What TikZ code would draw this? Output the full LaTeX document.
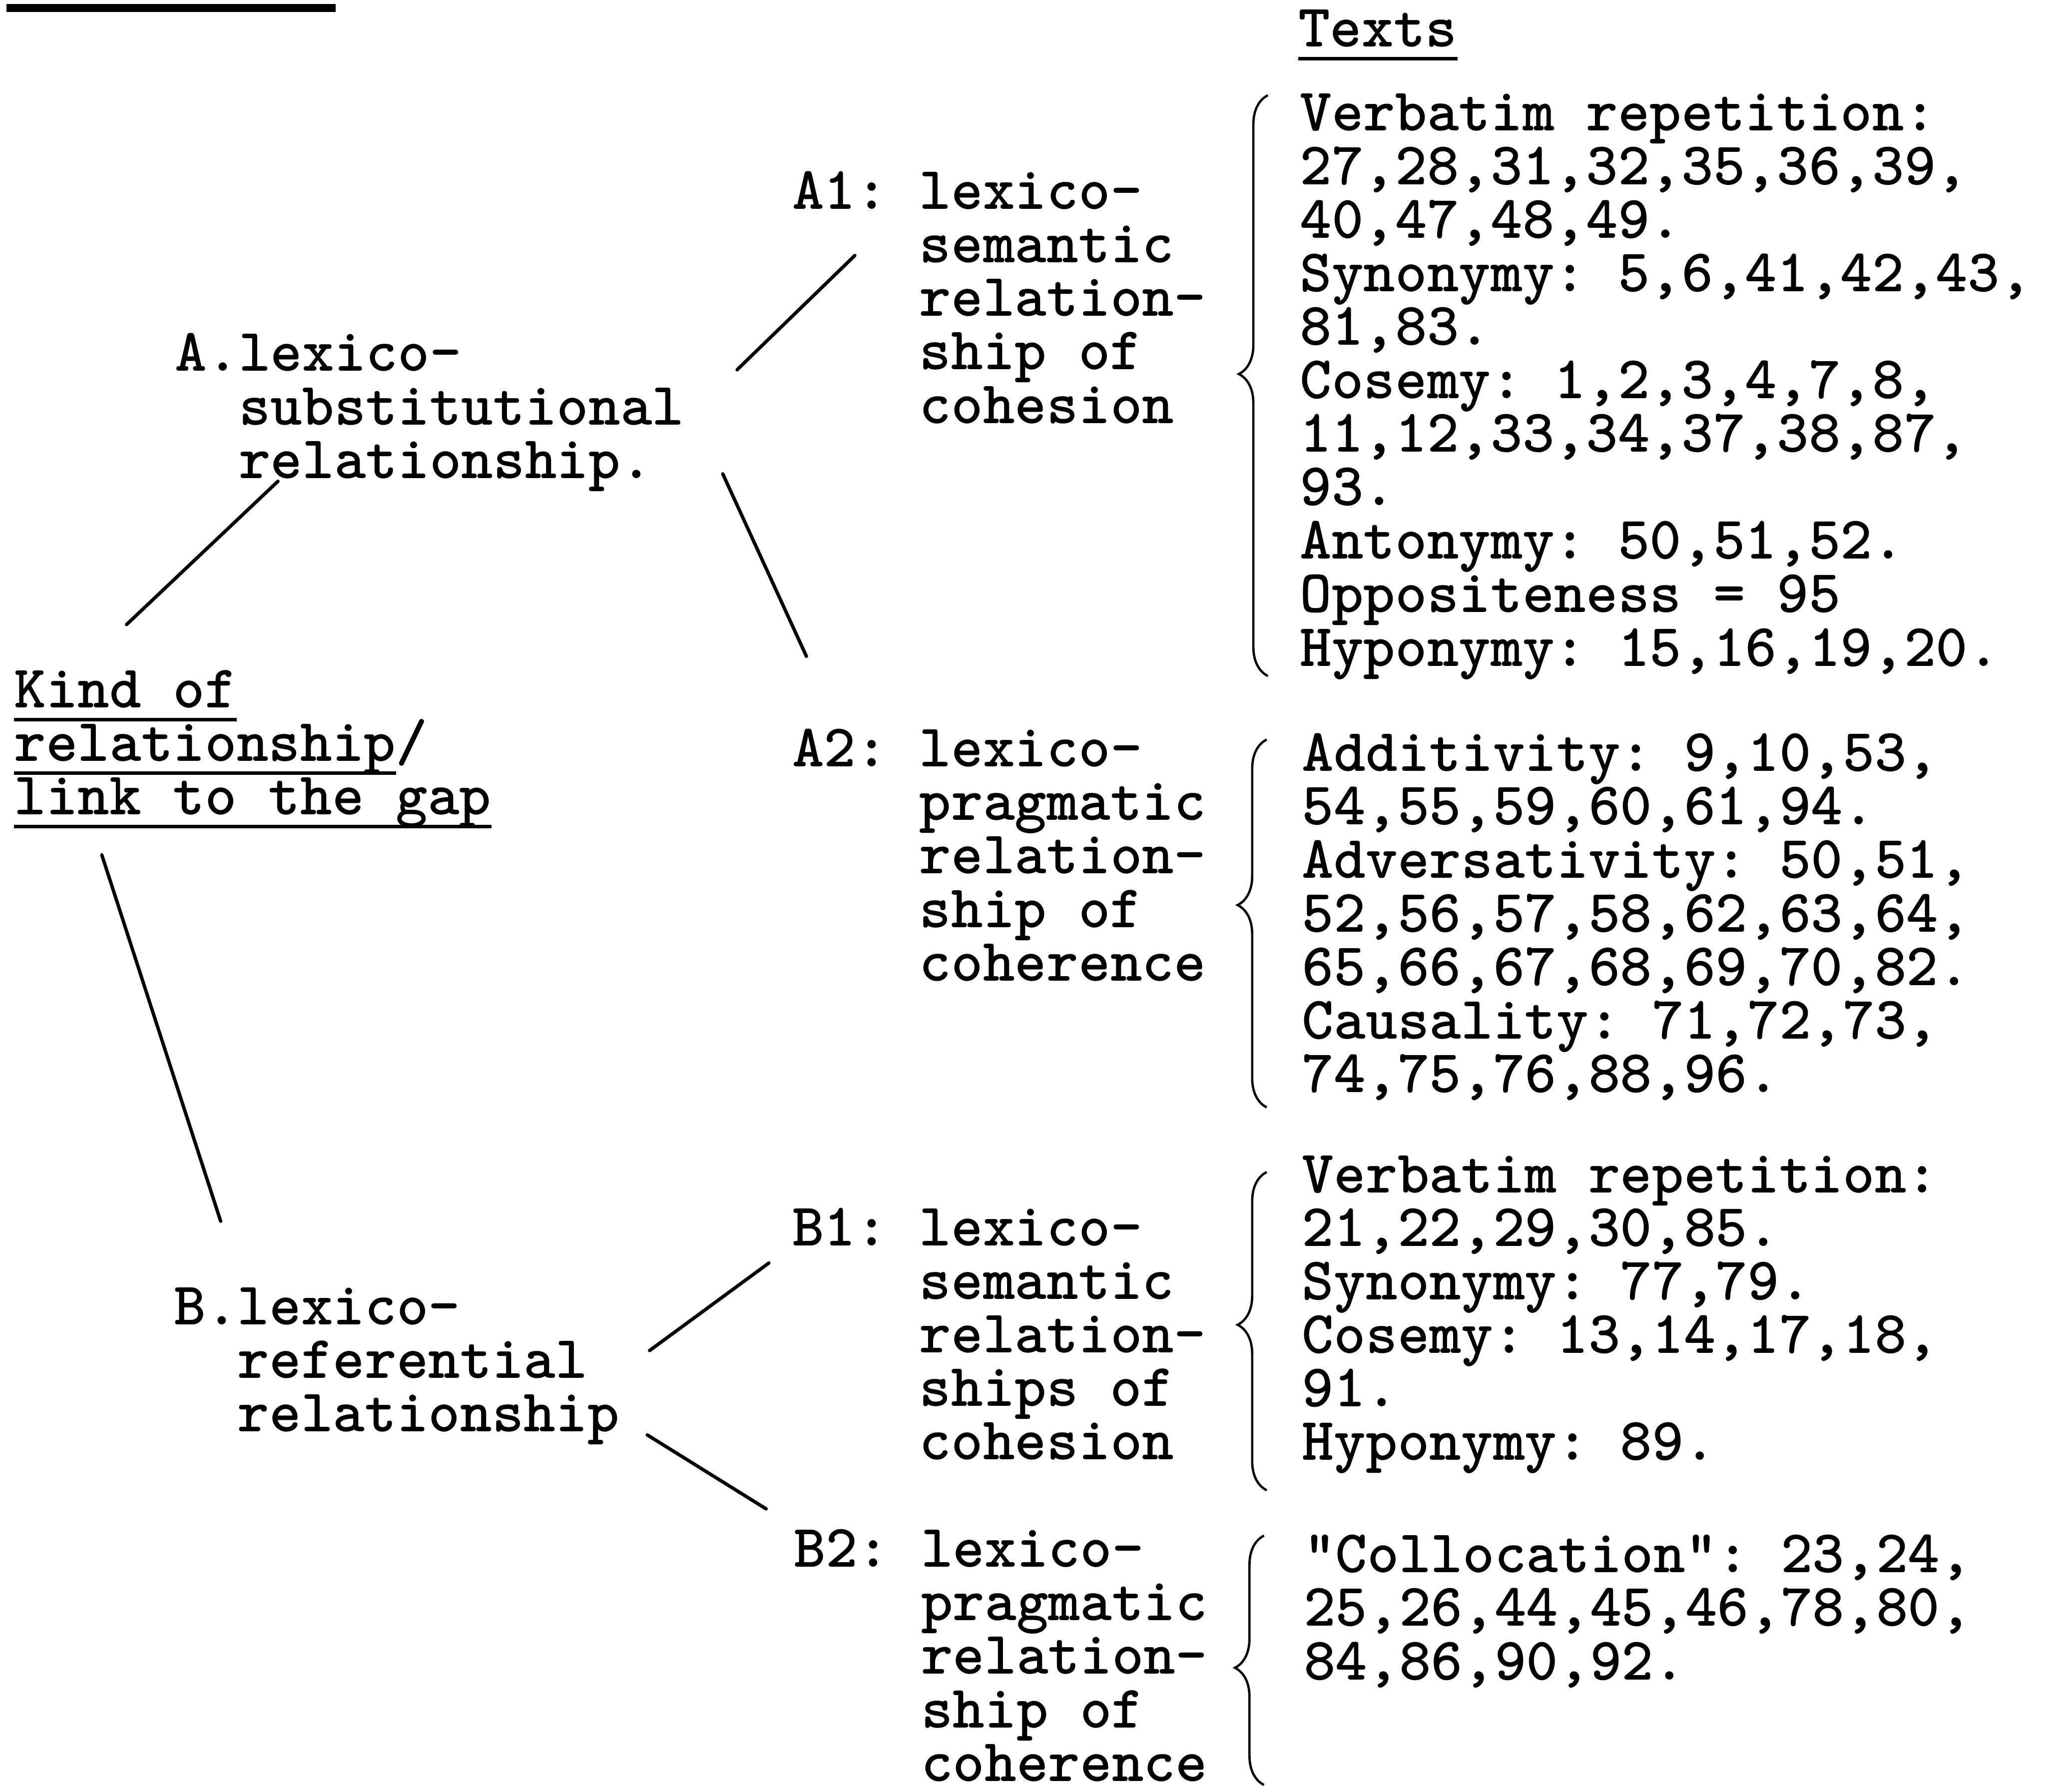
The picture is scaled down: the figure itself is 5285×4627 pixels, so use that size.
\documentclass[tikz,border=0pt]{standalone}
\usepackage{fontspec}
\usetikzlibrary{decorations.pathreplacing}

\newcommand{\typefont}{\fontsize{44.5pt}{39.3pt}\selectfont\ttfamily\bfseries\frenchspacing\lineskiplimit=-100pt\relax}
\newcommand{\typeul}[1]{\sbox0{#1}\rlap{\rule[-10pt]{\wd0}{2.6pt}}#1}

\begin{document}
\begin{tikzpicture}[x=0.01cm, y=-0.01cm,
	every node/.style={font=\typefont, inner sep=0pt, anchor=base west, align=left},
	link/.style={line width=2.5pt, line cap=round},
	curly/.style={decorate, line width=1.7pt}]
	\useasboundingbox (0,0) rectangle (5285,4627);

	\draw[line width=6pt] (17,21) -- (867,21);

	\node (root) at (36,2104) {\typeul{Kind of}\\\typeul{relationship}/\\\typeul{link to the gap}};
	\node (a) at (452,1235) {A.lexico-\\\hphantom{A.}substitutional\\\hphantom{A.}relationship.};
	\node (b) at (449,3697) {B.lexico-\\\hphantom{B.}referential\\\hphantom{B.}relationship};

	\node (a1) at (2046,1093) {A1: lexico-\\\hphantom{A1: }semantic\\\hphantom{A1: }relation-\\\hphantom{A1: }ship of\\\hphantom{A1: }cohesion};
	\node (a2) at (2046,2533) {A2: lexico-\\\hphantom{A2: }pragmatic\\\hphantom{A2: }relation-\\\hphantom{A2: }ship of\\\hphantom{A2: }coherence};
	\node (b1) at (2046,3770) {B1: lexico-\\\hphantom{B1: }semantic\\\hphantom{B1: }relation-\\\hphantom{B1: }ships of\\\hphantom{B1: }cohesion};
	\node (b2) at (2050,4600) {B2: lexico-\\\hphantom{B2: }pragmatic\\\hphantom{B2: }relation-\\\hphantom{B2: }ship of\\\hphantom{B2: }coherence};

	\node (texts) at (3353,121) {\typeul{Texts}};
	\node (ta1) at (3357,1720) {Verbatim repetition:\\27,28,31,32,35,36,39,\\40,47,48,49.\\Synonymy: 5,6,41,42,43,\\81,83.\\Cosemy: 1,2,3,4,7,8,\\11,12,33,34,37,38,87,\\93.\\Antonymy: 50,51,52.\\Oppositeness = 95\\Hyponymy: 15,16,19,20.};
	\node (ta2) at (3363,2821) {Additivity: 9,10,53,\\54,55,59,60,61,94.\\Adversativity: 50,51,\\52,56,57,58,62,63,64,\\65,66,67,68,69,70,82.\\Causality: 71,72,73,\\74,75,76,88,96.};
	\node (tb1) at (3363,3771) {Verbatim repetition:\\21,22,29,30,85.\\Synonymy: 77,79.\\Cosemy: 13,14,17,18,\\91.\\Hyponymy: 89.};
	\node (tb2) at (3367,4338) {"Collocation": 23,24,\\25,26,44,45,46,78,80,\\84,86,90,92.};

	\draw[link] ([shift={(291,-491)}]root.base west) -- ([shift={(266,8)}]a.base west);
	\draw[link] ([shift={(227,104)}]root.base west) -- ([shift={(121,-543)}]b.base west);
	\draw[link] ([shift={(1452,-280)}]a.base west) -- ([shift={(162,-433)}]a1.base west);
	\draw[link] ([shift={(1415,-11)}]a.base west) -- ([shift={(37,-838)}]a2.base west);
	\draw[link] ([shift={(1229,-209)}]b.base west) -- ([shift={(-60,-508)}]b1.base west);
	\draw[link] ([shift={(1223,9)}]b.base west) -- ([shift={(-71,-703)}]b2.base west);

	\draw[curly, decoration={brace, amplitude=0.75cm, aspect=0.52}] (3275,1746) -- (3275,246);
	\draw[curly, decoration={brace, amplitude=0.75cm, aspect=0.55}] (3272,2860) -- (3272,1910);
	\draw[curly, decoration={brace, amplitude=0.75cm, aspect=0.52}] (3272,3849) -- (3272,3027);
	\draw[curly, decoration={brace, amplitude=0.75cm, aspect=0.47}] (3265,4610) -- (3265,3966);
\end{tikzpicture}
\end{document}
